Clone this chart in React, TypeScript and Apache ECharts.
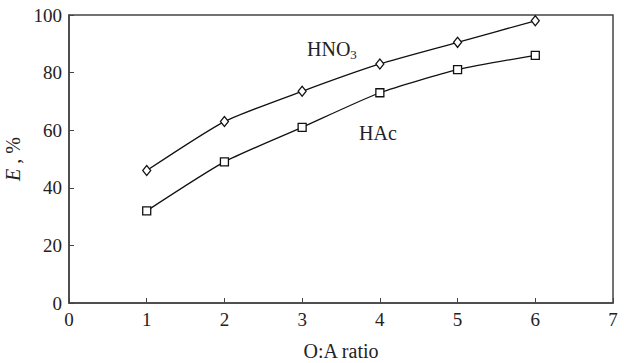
import React, { useEffect, useRef } from "react";
import * as echarts from "echarts";

const xValues = [1, 2, 3, 4, 5, 6];
const hno3Values = [46, 63, 73.5, 83, 90.5, 98];
const hacValues = [32, 49, 61, 73, 81, 86];
const xTicks = [0, 1, 2, 3, 4, 5, 6, 7];
const yTicks = [0, 20, 40, 60, 80, 100];

const FONT = "'Liberation Serif', 'DejaVu Serif', serif";

export default function App() {
  const ref = useRef<HTMLDivElement>(null);
  useEffect(() => {
    if (!ref.current) return;
    const chart = echarts.init(ref.current, undefined, { renderer: "svg" });
    const toPairs = (ys: number[]) => xValues.map((x, i) => [x, ys[i]]);
    chart.setOption({
      animation: false,
      backgroundColor: "#fff",
      grid: {
        left: 69,
        right: 11,
        top: 15,
        bottom: 60,
        containLabel: false,
        outerBoundsMode: "none",
        show: true,
        borderColor: "#444",
        borderWidth: 1.5,
        backgroundColor: "transparent",
      },
      xAxis: {
        type: "value",
        min: xTicks[0],
        max: xTicks[xTicks.length - 1],
        interval: 1,
        name: "O:A ratio",
        nameLocation: "middle",
        nameGap: 38,
        nameTextStyle: { fontFamily: FONT, fontSize: 20, color: "#222" },
        axisLine: { show: true, lineStyle: { color: "#444", width: 1.5 } },
        axisTick: { show: true, inside: true, length: 5, lineStyle: { color: "#444" } },
        axisLabel: { fontFamily: FONT, fontSize: 19, color: "#222", margin: 7 },
        splitLine: { show: false },
      },
      yAxis: {
        type: "value",
        min: yTicks[0],
        max: yTicks[yTicks.length - 1],
        interval: 20,
        name: "{i|E} , %",
        nameLocation: "middle",
        nameGap: 41,
        nameRotate: 90,
        nameTextStyle: {
          fontFamily: FONT,
          fontSize: 20,
          color: "#222",
          rich: {
            i: { fontFamily: FONT, fontSize: 20, fontStyle: "italic", color: "#222" },
          },
        },
        axisLine: { show: true, lineStyle: { color: "#444", width: 1.5 } },
        axisTick: { show: true, inside: true, length: 5, lineStyle: { color: "#444" } },
        axisLabel: { fontFamily: FONT, fontSize: 19, color: "#222", margin: 7 },
        splitLine: { show: false },
      },
      series: [
        {
          name: "HNO3",
          type: "line",
          data: toPairs(hno3Values),
          smooth: 0.2,
          symbol: "diamond",
          symbolSize: [8, 10],
          lineStyle: { color: "#111", width: 1.3 },
          itemStyle: { color: "#fff", borderColor: "#111", borderWidth: 1.3 },
          z: 3,
        },
        {
          name: "HAc",
          type: "line",
          data: toPairs(hacValues),
          smooth: 0.2,
          symbol: "rect",
          symbolSize: 8,
          lineStyle: { color: "#111", width: 1.3 },
          itemStyle: { color: "#fff", borderColor: "#111", borderWidth: 1.3 },
          z: 3,
        },
      ],
      graphic: [
        {
          type: "text",
          left: 307,
          top: 39,
          style: {
            text: "HNO{s|3}",
            fontFamily: FONT,
            fontSize: 20,
            fill: "#222",
            rich: {
              s: { fontFamily: FONT, fontSize: 13, fill: "#222", padding: [11, 0, 0, 0] },
            },
          },
        },
        {
          type: "text",
          left: 359,
          top: 123,
          style: { text: "HAc", fontFamily: FONT, fontSize: 20, fill: "#222" },
        },
      ],
    });
    return () => chart.dispose();
  }, []);
  return (
    <div
      ref={ref}
      style={{ position: "absolute", left: 0, top: 0, width: 624, height: 363 }}
    />
  );
}
